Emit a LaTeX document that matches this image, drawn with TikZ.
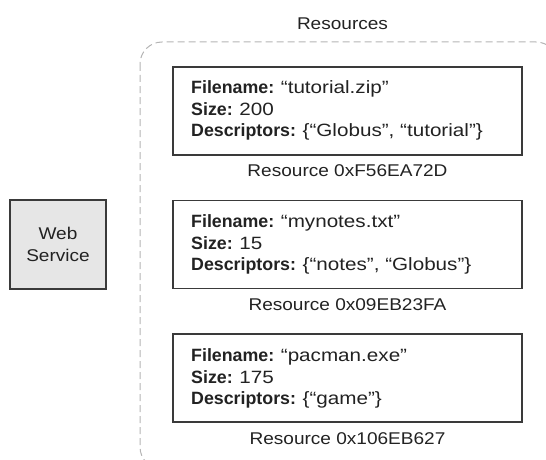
\documentclass[tikz,border=0pt]{standalone}
\usepackage{fontspec}
\setmainfont{Liberation Sans}
\newfontfamily\widef{Liberation Sans}[FakeStretch=1.12]
\newfontfamily\widerf{Liberation Sans}[FakeStretch=1.16]
\definecolor{boxline}{HTML}{3A3A3A}
\definecolor{txt}{HTML}{222222}
\definecolor{dashline}{HTML}{B4B4B4}
\definecolor{wsfill}{HTML}{E6E6E6}
\newcommand\kv[2]{\textbf{#1} {\widerf #2}}
\tikzset{
  resbox/.style={draw=boxline, line width=1.3pt, minimum width=349pt, minimum height=88pt, inner sep=0pt},
  wsbox/.style={draw=boxline, fill=wsfill, line width=1.3pt, minimum width=96pt, minimum height=89pt, inner sep=0pt, align=center, text=txt, font={\widef\fontsize{17}{22.7}\selectfont}},
  txtline/.style={anchor=base west, inner sep=0pt, text=txt, font={\fontsize{17.8}{20}\selectfont}},
  captxt/.style={anchor=base, inner sep=0pt, text=txt, font={\widef\fontsize{17}{20}\selectfont}},
  container/.style={draw=dashline, line width=1pt, dash pattern=on 7pt off 4pt, rounded corners=22pt}
}
\begin{document}
\begin{tikzpicture}[x=1pt, y=1pt]
\useasboundingbox (0,0) rectangle (546,459);
\clip (0,0) rectangle (546,459);
\draw[container] (140,417) rectangle (558,-10);
\node[captxt] (restitle) at (342.5,429.7) {Resources};
% Web service
\node[wsbox] (ws) at (58,214.5) {Web\\Service};
% Resource boxes
\node[resbox] (r1) at (347.5,348) {};
\node[resbox] (r2) at (347.5,214.5) {};
\node[resbox] (r3) at (347.5,81) {};
% Box 1
\node[txtline] (r1a) at (191,365.5) {\kv{Filename:}{“tutorial.zip”}};
\node[txtline] (r1b) at (191,344) {\kv{Size:}{200}};
\node[txtline] (r1c) at (191,322.5) {\kv{Descriptors:}{\{“Globus”, “tutorial”\}}};
\node[captxt] (l1) at (347.5,283) {Resource 0xF56EA72D};
% Box 2
\node[txtline] (r2a) at (191,231.5) {\kv{Filename:}{“mynotes.txt”}};
\node[txtline] (r2b) at (191,210) {\kv{Size:}{15}};
\node[txtline] (r2c) at (191,188.5) {\kv{Descriptors:}{\{“notes”, “Globus”\}}};
\node[captxt] (l2) at (347.5,149) {Resource 0x09EB23FA};
% Box 3
\node[txtline] (r3a) at (191,97.5) {\kv{Filename:}{“pacman.exe”}};
\node[txtline] (r3b) at (191,76) {\kv{Size:}{175}};
\node[txtline] (r3c) at (191,54.5) {\kv{Descriptors:}{\{“game”\}}};
\node[captxt] (l3) at (347.5,15) {Resource 0x106EB627};
\end{tikzpicture}
\end{document}
